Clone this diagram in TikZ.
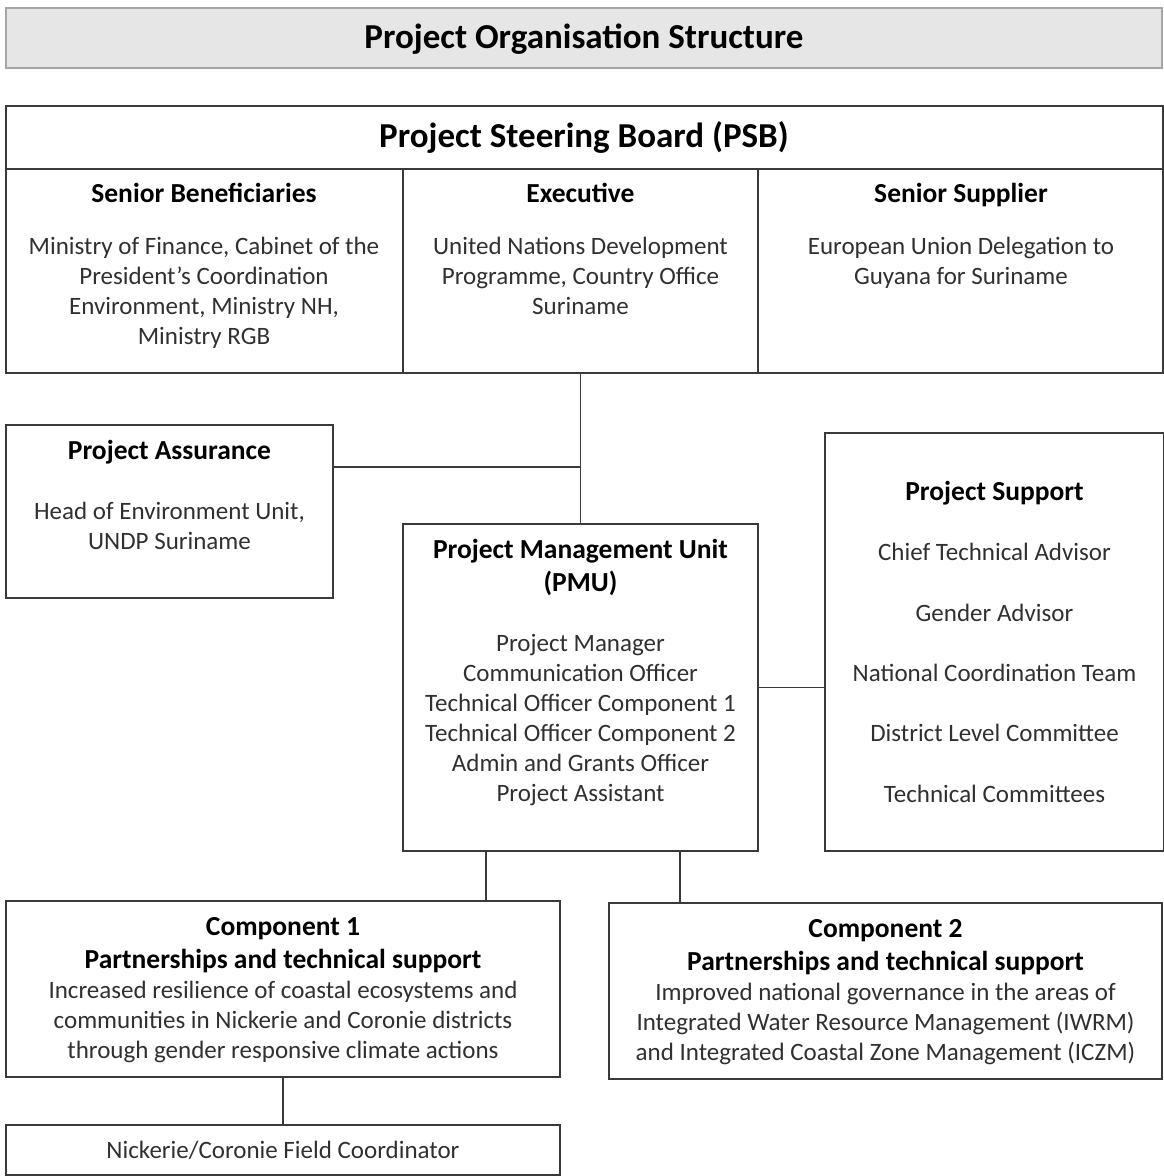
\documentclass[tikz,border=0pt]{standalone}
\usepackage{fontspec}
\setmainfont{Carlito}
\definecolor{linec}{HTML}{3A3A3A}
\definecolor{txtc}{HTML}{303030}
\definecolor{barfill}{HTML}{E6E6E6}
\definecolor{barline}{HTML}{A6A6A6}
\newcommand{\bodyfont}{\fontsize{25}{30}\selectfont}
\newcommand{\headfont}{\fontsize{27.5}{33}\selectfont\bfseries}
\newcommand{\bigfont}{\fontsize{35}{40}\selectfont\bfseries}
\begin{document}
\begin{tikzpicture}[x=1pt,y=-1pt,
  box/.style={draw=linec,line width=1.4pt,anchor=north west,inner sep=0pt,outer sep=0pt},
  body/.style={inner sep=0pt,align=center,text=txtc,font=\bodyfont},
  head/.style={inner sep=0pt,align=center,text=black,font=\headfont},
  big/.style={inner sep=0pt,align=center,text=black,font=\bigfont},
  conn/.style={draw=linec,line width=1.4pt}]
\useasboundingbox (0,0) rectangle (1164,1176);
% title bar
\node[box,draw=barline,fill=barfill,minimum width=1156pt,minimum height=60pt] (titlebar) at (6,8) {};
\node[big] (title) at (584,40) {\strut Project Organisation Structure};
% PSB
\node[box,minimum width=1157pt,minimum height=267pt] (psb) at (6,106) {};
\node[box,minimum width=1157pt,minimum height=63pt] (psbhead) at (6,106) {};
\node[box,minimum width=355pt,minimum height=204pt] (exec) at (403,169) {};
\node[big] (psbtitle) at (584,139) {\strut Project Steering Board (PSB)};
\node[head] (sbh) at (204,196) {\strut Senior Beneficiaries};
\node[body] (sbb) at (204,293) {\strut Ministry of Finance, Cabinet of the\\ President’s Coordination\\ Environment, Ministry NH,\\ Ministry RGB\strut};
\node[head] (exh) at (580.5,196) {\strut Executive};
\node[body] (exb) at (580.5,278) {\strut United Nations Development\\ Programme, Country Office\\ Suriname\strut};
\node[head] (ssh) at (961,196) {\strut Senior Supplier};
\node[body] (ssb) at (961,263) {\strut European Union Delegation to\\ Guyana for Suriname\strut};
% Project Assurance
\node[box,minimum width=327pt,minimum height=173pt] (pa) at (6,425) {};
\node[head] (pah) at (169.5,453) {\strut Project Assurance};
\node[body] (pab) at (169.5,528) {\strut Head of Environment Unit,\\ UNDP Suriname\strut};
% PMU
\node[box,minimum width=355pt,minimum height=327pt] (pmu) at (403,524) {};
\node[head] (pmuh) at (580.5,568.5) {\strut Project Management Unit\\ (PMU)\strut};
\node[body] (pmub) at (580.5,720.5) {\strut Project Manager\\ Communication Officer\\ Technical Officer Component 1\\ Technical Officer Component 2\\ Admin and Grants Officer\\ Project Assistant\strut};
% Project Support
\node[box,minimum width=339pt,minimum height=418pt] (ps) at (825,433) {};
\node[head] (psh) at (994.5,494) {\strut Project Support};
\node[body] (ps1) at (994.5,554) {\strut Chief Technical Advisor};
\node[body] (ps2) at (994.5,615) {\strut Gender Advisor};
\node[body] (ps3) at (994.5,675) {\strut National Coordination Team};
\node[body] (ps4) at (994.5,735) {\strut District Level Committee};
\node[body] (ps5) at (994.5,796) {\strut Technical Committees};
% Component 1
\node[box,minimum width=554pt,minimum height=176pt] (c1) at (6,901) {};
\node[head] (c1h) at (283,945.5) {\strut Component 1\\ Partnerships and technical support\strut};
\node[body] (c1b) at (283,1022) {\strut Increased resilience of coastal ecosystems and\\ communities in Nickerie and Coronie districts\\ through gender responsive climate actions\strut};
% Component 2
\node[box,minimum width=553pt,minimum height=176pt] (c2) at (609,903) {};
\node[head] (c2h) at (885.5,947) {\strut Component 2\\ Partnerships and technical support\strut};
\node[body] (c2b) at (885.5,1024) {\strut Improved national governance in the areas of\\ Integrated Water Resource Management (IWRM)\\ and Integrated Coastal Zone Management (ICZM)\strut};
% Field coordinator
\node[box,minimum width=554pt,minimum height=50pt] (fc) at (6,1125) {};
\node[body] (fct) at (283,1152) {\strut Nickerie/Coronie Field Coordinator};
% connectors
\coordinate (pajoin) at ([yshift=44.5pt]pa.east);
\coordinate (j) at (exec.south |- pajoin);
\draw[conn] (exec.south) -- (pmu.north);
\draw[conn] (pajoin) -- (j);
\draw[conn] (pmu.east) -- (pmu.east -| ps.west);
\draw[conn] ([xshift=83pt]pmu.south west) -- ([xshift=83pt]pmu.south west |- c1.north);
\draw[conn] ([xshift=277pt]pmu.south west) -- ([xshift=277pt]pmu.south west |- c2.north);
\draw[conn] (c1.south -| fc.north) -- (fc.north);
\end{tikzpicture}
\end{document}
